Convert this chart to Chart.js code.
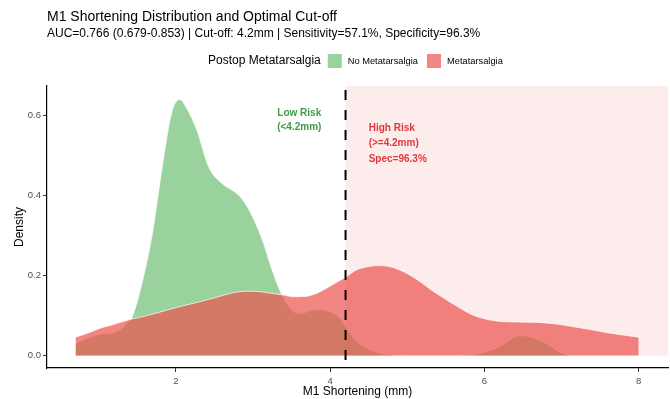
<!DOCTYPE html>
<html>
<head>
<meta charset="utf-8">
<script src="https://cdn.jsdelivr.net/npm/chart.js@4/dist/chart.umd.min.js"></script>
<style>
  html, body { margin: 0; padding: 0; background: #fff; }
  #wrap { width: 670px; height: 399px; }
</style>
</head>
<body>
<div id="wrap"><canvas id="chart"></canvas></div>
<script>
// density curves
const noMetX = [0.7, 0.88, 1.03, 1.18, 1.28, 1.36, 1.43, 1.57, 1.7, 1.83, 1.95, 2.05, 2.15, 2.27, 2.43, 2.6, 2.82, 2.95, 3.12, 3.25, 3.38, 3.51, 3.6, 3.82, 3.99, 4.12, 4.21, 4.33, 4.54, 4.75, 5.0, 5.5, 5.9, 6.18, 6.47, 6.78, 6.98, 7.18, 8.0];
const noMetY = [0.030, 0.045, 0.054, 0.056, 0.065, 0.080, 0.095, 0.188, 0.31, 0.48, 0.61, 0.64, 0.615, 0.565, 0.47, 0.43, 0.40, 0.364, 0.29, 0.213, 0.15, 0.113, 0.105, 0.115, 0.11, 0.095, 0.07, 0.038, 0.013, 0.003, 0.0, 0.0, 0.004, 0.021, 0.05, 0.033, 0.008, 0.0, 0.0];

const metX = [0.7, 0.88, 1.01, 1.18, 1.4, 1.63, 1.87, 2.08, 2.3, 2.53, 2.74, 2.93, 3.08, 3.23, 3.38, 3.53, 3.68, 3.83, 3.94, 4.08, 4.2, 4.33, 4.48, 4.63, 4.78, 4.98, 5.15, 5.32, 5.48, 5.63, 5.78, 5.93, 6.18, 6.43, 6.7, 6.93, 7.13, 7.38, 7.57, 7.78, 8.0];
const metY = [0.046, 0.058, 0.068, 0.077, 0.09, 0.10, 0.113, 0.124, 0.134, 0.146, 0.157, 0.161, 0.16, 0.156, 0.152, 0.147, 0.148, 0.156, 0.167, 0.183, 0.196, 0.213, 0.222, 0.225, 0.222, 0.207, 0.187, 0.163, 0.143, 0.125, 0.108, 0.096, 0.086, 0.084, 0.083, 0.079, 0.073, 0.065, 0.058, 0.052, 0.046];

const seriesNames = ["No Metatarsalgia", "Metatarsalgia"];
const xTicks = [2, 4, 6, 8];
const yTicks = [0, 0.2, 0.4, 0.6];
const cutOff = 4.2;

const FONT = "'Liberation Sans', Arial, sans-serif";
const greenFill = "rgba(109,191,115,0.7)";
const redFill = "rgba(236,82,79,0.7)";

function toPoints(xs, ys) {
    return xs.map(function(x, i) { return { x: x, y: ys[i] }; });
}

// background band, cut-off line, annotations, title and legend
const decorPlugin = {
    id: "decor",
    beforeDatasetsDraw: function(chart) {
        const ctx = chart.ctx;
        const xs = chart.scales.x, ys = chart.scales.y;
        const area = chart.chartArea;
        const x0 = xs.getPixelForValue(cutOff);
        const yZero = ys.getPixelForValue(0);
        ctx.save();
        ctx.fillStyle = "#FCECEC";
        ctx.fillRect(x0, area.top, area.right - x0, yZero - area.top);
        ctx.restore();
    },
    afterDatasetsDraw: function(chart) {
        const ctx = chart.ctx;
        const xs = chart.scales.x, ys = chart.scales.y;
        const area = chart.chartArea;
        const x0 = xs.getPixelForValue(cutOff);
        ctx.save();
        ctx.strokeStyle = "#000";
        ctx.lineWidth = 2;
        ctx.setLineDash([10, 10]);
        ctx.lineDashOffset = 16;
        ctx.beginPath();
        ctx.moveTo(x0, area.top);
        ctx.lineTo(x0, area.bottom);
        ctx.stroke();
        ctx.setLineDash([]);

        ctx.font = "bold 10px " + FONT;
        ctx.textBaseline = "middle";
        ctx.fillStyle = "#3E9B48";
        ctx.textAlign = "center";
        const lx = xs.getPixelForValue(3.6);
        ctx.fillText("Low Risk", lx, ys.getPixelForValue(0.607));
        ctx.fillText("(<4.2mm)", lx, ys.getPixelForValue(0.57));

        ctx.fillStyle = "#E0393A";
        ctx.textAlign = "left";
        const hx = xs.getPixelForValue(4.5);
        ctx.fillText("High Risk", hx, ys.getPixelForValue(0.568));
        ctx.fillText("(>=4.2mm)", hx, ys.getPixelForValue(0.53));
        ctx.fillText("Spec=96.3%", hx, ys.getPixelForValue(0.492));
        ctx.restore();
    },
    afterDraw: function(chart) {
        const ctx = chart.ctx;
        ctx.save();
        ctx.fillStyle = "#000";
        ctx.textAlign = "left";
        ctx.textBaseline = "middle";
        ctx.font = "14px " + FONT;
        ctx.fillText("M1 Shortening Distribution and Optimal Cut-off", 47, 17);
        ctx.font = "12px " + FONT;
        ctx.fillText("AUC=0.766 (0.679-0.853) | Cut-off: 4.2mm | Sensitivity=57.1%, Specificity=96.3%", 47, 34);

        // legend
        let x = 208;
        const ly = 61;
        ctx.font = "12px " + FONT;
        ctx.fillText("Postop Metatarsalgia", x, ly);
        x += ctx.measureText("Postop Metatarsalgia").width + 7;
        const fills = [greenFill, redFill];
        for (let i = 0; i < seriesNames.length; i++) {
            ctx.fillStyle = fills[i];
            ctx.fillRect(x, ly - 7, 14, 14);
            x += 14 + 6;
            ctx.fillStyle = "#000";
            ctx.font = "9.3px " + FONT;
            ctx.fillText(seriesNames[i], x, ly);
            x += ctx.measureText(seriesNames[i]).width + 9;
        }
        ctx.restore();
    }
};

const ctx = document.getElementById("chart").getContext("2d");

new Chart(ctx, {
    type: "line",
    data: {
        datasets: [
            {
                label: seriesNames[0],
                data: toPoints(noMetX, noMetY),
                backgroundColor: greenFill,
                borderColor: "rgba(255,255,255,0.9)",
                borderWidth: 0.8,
                fill: "origin",
                pointRadius: 0,
                cubicInterpolationMode: "monotone",
                order: 1
            },
            {
                label: seriesNames[1],
                data: toPoints(metX, metY),
                backgroundColor: redFill,
                borderColor: "rgba(255,255,255,0.9)",
                borderWidth: 0.8,
                fill: "origin",
                pointRadius: 0,
                cubicInterpolationMode: "monotone",
                order: 0
            }
        ]
    },
    options: {
        responsive: true,
        maintainAspectRatio: false,
        animation: false,
        events: [],
        layout: { padding: { top: 86, right: 2, left: 0, bottom: 0 } },
        plugins: {
            legend: { display: false },
            title: { display: false },
            tooltip: { enabled: false }
        },
        scales: {
            x: {
                type: "linear",
                min: 0.33,
                max: 8.38,
                afterBuildTicks: function(scale) {
                    scale.ticks = xTicks.map(function(v) { return { value: v }; });
                },
                afterFit: function(scale) { scale.height = 31; },
                grid: { drawOnChartArea: false, drawTicks: true, tickLength: 4, color: "#333" },
                border: { display: true, color: "#000", width: 1.2 },
                ticks: {
                    padding: 4,
                    color: "#4D4D4D",
                    font: { family: FONT, size: 9.5 },
                    callback: function(v) { return String(v); }
                },
                title: {
                    display: true,
                    text: "M1 Shortening (mm)",
                    color: "#000",
                    font: { family: FONT, size: 12 },
                    padding: { top: 0, bottom: 0 }
                }
            },
            y: {
                min: -0.031,
                max: 0.674,
                afterBuildTicks: function(scale) {
                    scale.ticks = yTicks.map(function(v) { return { value: v }; });
                },
                afterFit: function(scale) { scale.width = 47; },
                grid: { drawOnChartArea: false, drawTicks: true, tickLength: 4, color: "#333" },
                border: { display: true, color: "#000", width: 1.2 },
                ticks: {
                    padding: 2,
                    color: "#4D4D4D",
                    font: { family: FONT, size: 9.5 },
                    callback: function(v) { return v.toFixed(1); }
                },
                title: {
                    display: true,
                    text: "Density",
                    color: "#000",
                    font: { family: FONT, size: 12 },
                    padding: { top: 12, bottom: 0 }
                }
            }
        }
    },
    plugins: [decorPlugin]
});
</script>
</body>
</html>
